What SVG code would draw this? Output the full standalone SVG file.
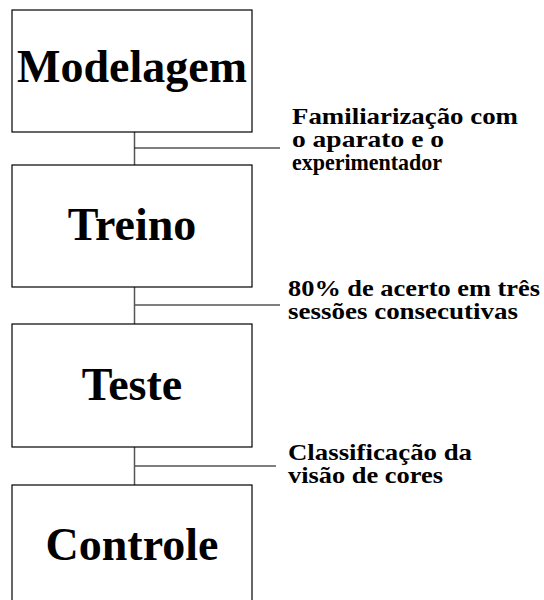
<svg xmlns="http://www.w3.org/2000/svg" width="544" height="600" viewBox="0 0 544 600">
<style>
.box{fill:#fff;stroke:#000;stroke-width:1.2}
.title{font-family:'Liberation Serif',Tinos,'Times New Roman',serif;font-weight:700;font-size:46px;fill:#000;text-anchor:middle}
.lbl{font-family:'Liberation Serif',Tinos,'Times New Roman',serif;font-weight:700;font-size:24px;fill:#000}
.con{stroke:#555;stroke-width:1.5;fill:none}
.tick{stroke:#000;stroke-width:1.2;fill:none}
</style>
<rect width="544" height="600" fill="#fff"/>
<g id="connectors">
<line class="con" x1="134.5" y1="132" x2="134.5" y2="165"/>
<line class="tick" x1="134.5" y1="148" x2="280" y2="148"/>
<line class="con" x1="134.5" y1="287" x2="134.5" y2="324"/>
<line class="con" x1="134.5" y1="305" x2="280" y2="305"/>
<line class="con" x1="134.5" y1="447" x2="134.5" y2="485"/>
<line class="con" x1="134.5" y1="466" x2="276" y2="466"/>
</g>
<g id="modelagem">
<rect class="box" x="12" y="10" width="240" height="122"/>
<text class="title" x="132" y="82" font-family="Liberation Serif">Modelagem</text>
</g>
<g id="treino">
<rect class="box" x="12" y="165" width="240" height="122"/>
<text class="title" x="132" y="240" font-family="Liberation Serif">Treino</text>
</g>
<g id="teste">
<rect class="box" x="12" y="324" width="240" height="123"/>
<text class="title" x="132" y="400" font-family="Liberation Serif">Teste</text>
</g>
<g id="controle">
<rect class="box" x="12" y="485" width="240" height="130"/>
<text class="title" x="132" y="560" font-family="Liberation Serif">Controle</text>
</g>
<g id="label1">
<text class="lbl" x="292" y="124" textLength="226" lengthAdjust="spacingAndGlyphs">Familiarização com</text>
<text class="lbl" x="292" y="147" textLength="152" lengthAdjust="spacingAndGlyphs">o aparato e o</text>
<text class="lbl" x="292" y="170" textLength="150" lengthAdjust="spacingAndGlyphs">experimentador</text>
</g>
<g id="label2">
<text class="lbl" x="288" y="296" textLength="252" lengthAdjust="spacingAndGlyphs">80% de acerto em três</text>
<text class="lbl" x="288" y="319" textLength="230" lengthAdjust="spacingAndGlyphs">sessões consecutivas</text>
</g>
<g id="label3">
<text class="lbl" x="288" y="460" textLength="184" lengthAdjust="spacingAndGlyphs">Classificação da</text>
<text class="lbl" x="288" y="483" textLength="155" lengthAdjust="spacingAndGlyphs">visão de cores</text>
</g>
</svg>
